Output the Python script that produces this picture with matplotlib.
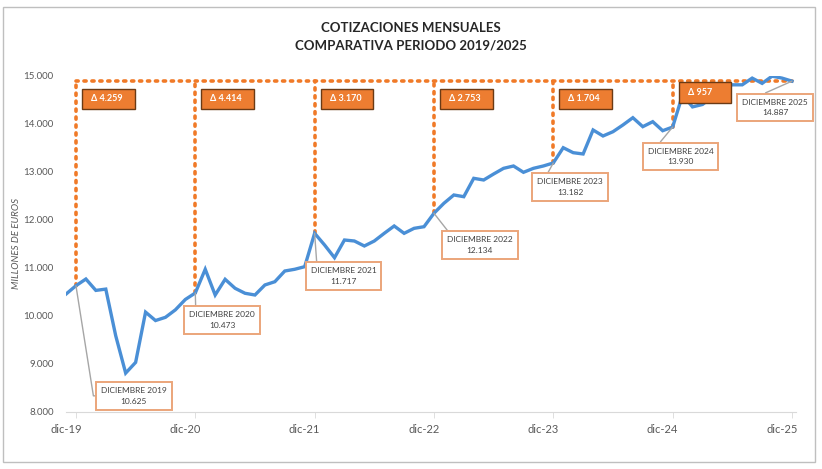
import numpy as np
import matplotlib.pyplot as plt
from matplotlib.patches import Rectangle

# monthly values, nov-2019 .. dic-2025 (millones de euros)
values = [10450, 10625,
          10764, 10527, 10554, 9581, 8804, 9027, 10074, 9899, 9966, 10122, 10338, 10473,
          10967, 10431, 10758, 10571, 10467, 10431, 10640, 10708, 10931, 10967, 11021, 11717,
          11473, 11208, 11577, 11556, 11452, 11556, 11716, 11869, 11716, 11820, 11854, 12134,
          12342, 12515, 12479, 12862, 12827, 12952, 13070, 13119, 12987, 13070, 13119, 13182,
          13500, 13396, 13369, 13869, 13744, 13833, 13973, 14125, 13938, 14042, 13854, 13930,
          14600, 14350, 14400, 14560, 14740, 14810, 14810, 14950, 14840, 14990, 14950, 14887]
months = np.arange(-1, len(values) - 1)  # 0 = dic-19

years = [2019, 2020, 2021, 2022, 2023, 2024, 2025]
tick_labels = ['dic-19', 'dic-20', 'dic-21', 'dic-22', 'dic-23', 'dic-24', 'dic-25']
deltas = [4259, 4414, 3170, 2753, 1704, 957]

# callout box centres (month index, value)
callout_pos = [(5.8, 8330), (14.7, 9910), (26.9, 10830), (40.6, 11470),
               (49.7, 12680), (60.8, 13320), (70.3, 14340)]

BLUE = '#4A8FD6'
ORANGE = '#F07A28'
TXT = '#595959'


def fmt(v):
    return f'{v:,}'.replace(',', '.')


plt.rcParams['font.family'] = ['Lato', 'DejaVu Sans']

fig = plt.figure(figsize=(8.22, 4.69), dpi=100)
ax = fig.add_axes([0.0803, 0.1222, 0.888, 0.7164])

dec_idx = [12 * i for i in range(len(years))]
dec_vals = [values[list(months).index(m)] for m in dec_idx]
top = dec_vals[-1]

# dotted reference lines
ax.plot([dec_idx[0], dec_idx[-1]], [top, top], color=ORANGE, lw=2.6,
        ls=(0, (0.6, 1.6)), dash_capstyle='round', zorder=2)
for m, v in zip(dec_idx[:-1], dec_vals[:-1]):
    ax.plot([m, m], [v, top], color=ORANGE, lw=2.6,
            ls=(0, (0.6, 1.6)), dash_capstyle='round', zorder=2)

ax.plot(months, values, color=BLUE, lw=2.4, zorder=3, solid_joinstyle='miter')

# delta boxes
for i, (m, d) in enumerate(zip(dec_idx[:-1], deltas)):
    y0 = 14300 if i < 5 else 14430
    ax.add_patch(Rectangle((m + 0.6, y0), 5.3, 430, facecolor='#ED7D31',
                           edgecolor='#6B3A14', lw=1.0, zorder=5))
    ax.text(m + 1.5, y0 + 215, 'Δ ' + fmt(d), color='white', fontsize=6.5,
            fontweight='bold', va='center', ha='left', zorder=6)

# callouts
for k, (m, v, yr, pos) in enumerate(zip(dec_idx, dec_vals, years, callout_pos)):
    cs = 'angle,angleA=0,angleB=-81' if k == 0 else 'arc3'
    ax.annotate(f'DICIEMBRE {yr}\n{fmt(v)}', xy=(m, v), xytext=pos,
                ha='center', va='center', fontsize=6, color='#404040',
                linespacing=1.6, zorder=7,
                bbox=dict(boxstyle='square,pad=0.6', fc='white', ec='#EBA57A', lw=1.4),
                arrowprops=dict(arrowstyle='-', color='#A6A6A6', lw=1.0,
                                connectionstyle=cs, shrinkA=0, shrinkB=0,
                                relpos=(0, 0.5) if k == 0 else (0.1, 0.9)))

ax.set_xlim(-0.47, 72.4)
ax.set_ylim(8000, 15000)
ax.set_yticks(range(8000, 15001, 1000))
ax.set_yticklabels([fmt(v) for v in range(8000, 15001, 1000)])
ax.set_xticks(dec_idx, minor=True)
ax.set_xticks([m - 1.0 for m in dec_idx])
ax.set_xticklabels(tick_labels)
ax.tick_params(axis='x', which='major', length=0, labelsize=8, labelcolor=TXT, pad=9)
ax.tick_params(axis='x', which='minor', length=4, color='#D9D9D9')
ax.tick_params(axis='y', length=0, labelsize=7, labelcolor=TXT, pad=9)
for s in ['top', 'right', 'left']:
    ax.spines[s].set_visible(False)
ax.spines['bottom'].set_color('#D9D9D9')
ax.set_ylabel('MILLONES DE EUROS', fontsize=7, color=TXT, style='italic')
ax.yaxis.set_label_coords(-0.062, 0.5)

fig.text(0.5, 1 - 28 / 469, 'COTIZACIONES MENSUALES', ha='center', va='center',
         fontsize=9.5, fontweight='bold', color='#262626')
fig.text(0.5, 1 - 45 / 469, 'COMPARATIVA PERIODO 2019/2025', ha='center', va='center',
         fontsize=9.5, fontweight='bold', color='#262626')

# outer frame
fig.add_artist(Rectangle((3 / 822, 1 - 462 / 469), 812 / 822, 455 / 469,
                         transform=fig.transFigure, fill=False, ec='#BFBFBF', lw=1.0))

fig.savefig('out.png', dpi=100)
